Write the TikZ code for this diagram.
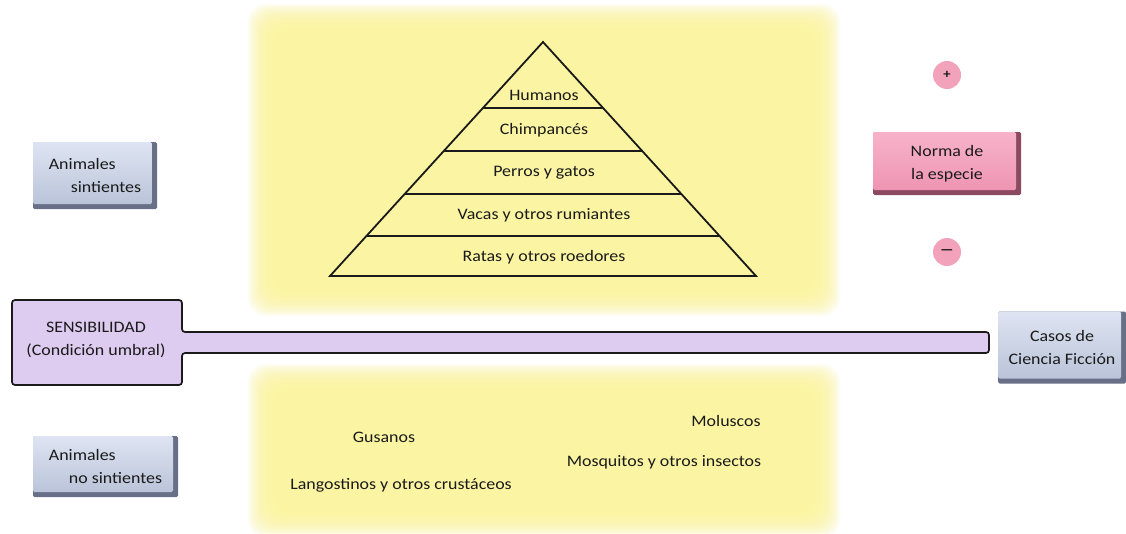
\documentclass[tikz,border=0pt]{standalone}
\usepackage{fontspec}
\usepackage{graphicx}
\setmainfont{Carlito}[FakeStretch=1.12]
\usetikzlibrary{calc}
\definecolor{txt}{HTML}{1A1A1A}
\definecolor{yel}{HTML}{FBF59C}
\definecolor{lav}{HTML}{DDCBF0}
\definecolor{bluetop}{HTML}{DEE4F2}
\definecolor{bluebot}{HTML}{B7C1D7}
\definecolor{blueedge}{HTML}{687088}
\definecolor{pinktop}{HTML}{F7B3C9}
\definecolor{pinkbot}{HTML}{EE92B1}
\definecolor{pinkedge}{HTML}{8C4A62}
\definecolor{pinkdot}{HTML}{F3A2BC}
\newcommand{\yglow}[4]{%
  \foreach \i in {0,...,15}{%
    \fill[yel,opacity=0.13,rounded corners=18pt] ({#1+\i*1.6},{#2+\i*1.6}) rectangle ({#3-\i*1.6},{#4-\i*1.6});}%
}
\tikzset{
  lbl/.style={text=txt,font=\fontsize{16}{23}\selectfont,inner sep=0pt},
  btn/.style n args={3}{draw=none,fill=#3,inner sep=0pt,rounded corners=1.5pt,
    text=txt,font=\fontsize{16}{23}\selectfont,
    path picture={\shade[top color=#1,bottom color=#2]
      (path picture bounding box.north west) rectangle
      ([xshift=-5pt,yshift=5pt]path picture bounding box.south east);}},
  bluebtn/.style={btn={bluetop}{bluebot}{blueedge}},
  pinkbtn/.style={btn={pinktop}{pinkbot}{pinkedge}},
  dot/.style={circle,fill=pinkdot,minimum size=28pt,inner sep=0pt,text=txt,font=\fontsize{13}{13}\selectfont\bfseries},
  pyr/.style={line width=1.8pt,draw=txt},
}
\begin{document}
\begin{tikzpicture}[x=1pt,y=-1pt]
\useasboundingbox[fill=white] (0,0) rectangle (1126,533);
% yellow areas
\yglow{248}{4}{840}{316}
\yglow{248}{364}{840}{537}
% pyramid
\coordinate (A) at (543,42);
\coordinate (BL) at (330,276);
\coordinate (BR) at (756,276);
\draw[pyr,line join=miter] (A) -- (BL) -- (BR) -- cycle;
\foreach \yy in {108,151,194,236}{
  \draw[pyr] ($(A)!{(\yy-42)/234}!(BL)$) -- ($(A)!{(\yy-42)/234}!(BR)$);
}
\node[lbl] (hum) at (544,95) {Humanos};
\node[lbl] (chi) at (544,130) {Chimpancés};
\node[lbl] (per) at (544,173) {Perros y gatos};
\node[lbl] (vac) at (544,215) {Vacas y otros rumiantes};
\node[lbl] (rat) at (544,257) {Ratas y otros roedores};
% bottom texts
\node[lbl] (gus) at (384,437) {Gusanos};
\node[lbl] (mol) at (726,421) {Moluscos};
\node[lbl] (mos) at (664,462) {Mosquitos y otros insectos};
\node[lbl] (lan) at (401,485) {Langostinos y otros crustáceos};
% sensibilidad bar
\draw[line width=1.7pt,draw=txt,fill=lav,rounded corners=3pt]
  (12,300) -- (182,300) -- (182,332) -- (989,332) -- (989,353) -- (182,353) -- (182,385) -- (12,385) -- cycle;
\node[lbl,align=center] (sens) at (96,340) {SENSIBILIDAD\\(Condición umbral)};
% left buttons
\node[bluebtn,minimum width=124pt,minimum height=67pt,align=left] (sint) at (95,175.5)
  {Animales\\\hspace*{22pt}sintientes};
\node[bluebtn,minimum width=145pt,minimum height=61pt,align=left] (nosint) at (105.5,466.5)
  {Animales\\\hspace*{20pt}no sintientes};
% right
\node[bluebtn,minimum width=128pt,minimum height=72pt,align=center] (casos) at (1062,347.5)
  {Casos de\\Ciencia Ficción};
\node[pinkbtn,minimum width=148pt,minimum height=63pt,align=center] (norma) at (947,163.5)
  {Norma de\\la especie};
\node[dot] (plus) at (947,75) {+};
\node[dot,font=\fontsize{15}{15}\selectfont\bfseries] (minus) at (947,252) {\scalebox{1.8}[1]{–}};
\end{tikzpicture}
\end{document}
